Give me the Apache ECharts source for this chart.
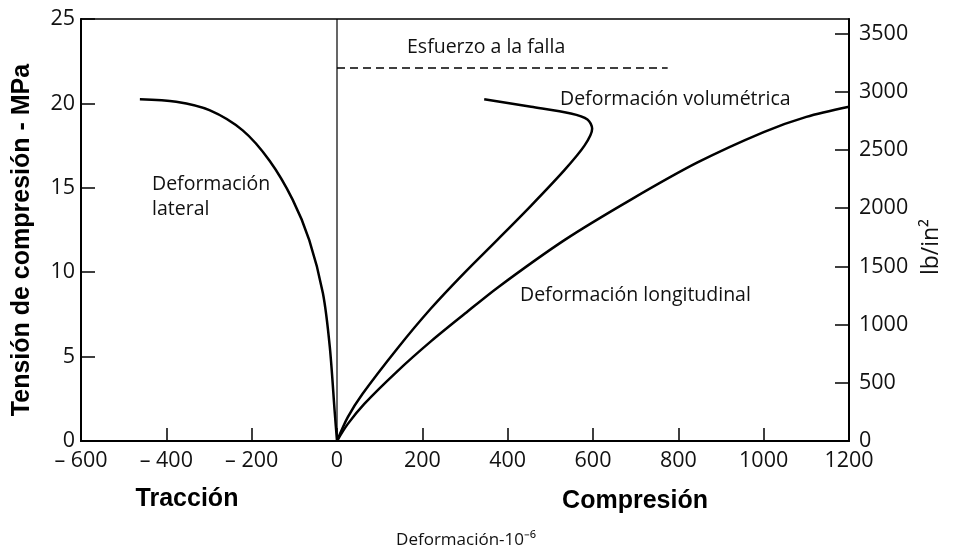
<!DOCTYPE html>
<html><head><meta charset="utf-8">
<script src="https://cdn.jsdelivr.net/npm/echarts@6/dist/echarts.min.js"></script>
<style>html,body{margin:0;padding:0;background:#fff}#c{width:953px;height:557px}</style>
</head><body><div id="c"></div>
<script>
// Axis ticks and labels
const xTicks = [-600, -400, -200, 0, 200, 400, 600, 800, 1000, 1200];
const xTickLabels = ['– 600', '– 400', '– 200', '0', '200', '400', '600', '800', '1000', '1200'];
const yTicksMPa = [0, 5, 10, 15, 20, 25];
const yTicksPsi = [0, 500, 1000, 1500, 2000, 2500, 3000, 3500];

// Deformación lateral (tracción)
const lateralStrain = [0, -5, -17, -33, -65, -104, -158, -221, -299, -377, -462];
const lateralStress = [0, 1.6, 5.6, 8.75, 11.9, 14.3, 16.6, 18.4, 19.6, 20.1, 20.25];

// Deformación longitudinal
const longStrain = [0, 25, 64, 140, 220, 300, 377, 533, 689, 845, 1000, 1100, 1200];
const longStress = [0, 1.0, 2.2, 4.1, 5.9, 7.55, 9.1, 11.9, 14.3, 16.5, 18.3, 19.2, 19.8];

// Deformación volumétrica
const volStrain = [0, 25, 60, 142, 220, 298, 377, 455, 533, 580, 598, 587, 548, 455, 345];
const volStress = [0, 1.4, 2.8, 5.5, 7.85, 9.95, 11.95, 13.95, 16.05, 17.5, 18.5, 19.05, 19.4, 19.8, 20.25];

// Esfuerzo a la falla
const failureStrain = [0, 775];
const failureStress = [22.1, 22.1];

// Eje de deformación cero
const zeroStrain = [0, 0];
const zeroStress = [0, 25];

const zip = (a, b) => a.map((v, i) => [v, b[i]]);
const MPA_TO_PSI = 145.038;

const chart = echarts.init(document.getElementById('c'), null, {renderer: 'canvas'});
const tickFont = {fontFamily: 'Open Sans', fontSize: 21.5, color: '#111'};
const annFont = {fontFamily: 'Open Sans', fontSize: 19.5, fill: '#111'};
const boldFont = {fontFamily: 'Liberation Sans', fontWeight: 'bold', fontSize: 25, fill: '#000'};

chart.setOption({
  animation: false,
  backgroundColor: '#fff',
  grid: {left: 81, right: 104, top: 19, bottom: 116, show: true, borderColor: '#000', borderWidth: 1.5, containLabel: false},
  xAxis: {
    type: 'value', min: -600, max: 1200, interval: 200,
    axisLine: {show: true, onZero: false, lineStyle: {color: '#000', width: 2}},
    axisTick: {show: true, inside: true, length: 13, lineStyle: {color: '#000', width: 1.5}},
    splitLine: {show: false},
    axisLabel: {margin: 9, ...tickFont, formatter: v => { const i = xTicks.indexOf(v); return i >= 0 ? xTickLabels[i] : ''; }}
  },
  yAxis: [{
    type: 'value', min: 0, max: 25, interval: 5, position: 'left',
    axisLine: {show: true, onZero: false, lineStyle: {color: '#000', width: 2}},
    axisTick: {show: true, inside: true, length: 14, lineStyle: {color: '#000', width: 1.5}},
    splitLine: {show: false},
    axisLabel: {margin: 6, ...tickFont, formatter: v => yTicksMPa.includes(v) ? String(v) : ''}
  }, {
    type: 'value', min: 0, max: 25 * MPA_TO_PSI, interval: 500, position: 'right',
    axisLine: {show: true, onZero: false, lineStyle: {color: '#000', width: 2}},
    axisTick: {show: true, inside: true, length: 14, lineStyle: {color: '#000', width: 1.5}},
    splitLine: {show: false},
    axisLabel: {margin: 10, showMaxLabel: false, ...tickFont, formatter: v => yTicksPsi.includes(v) ? String(v) : ''}
  }],
  series: [
    {type: 'line', data: zip(zeroStrain, zeroStress), symbol: 'none', lineStyle: {color: '#000', width: 1.2}, z: 1},
    {type: 'line', data: zip(failureStrain, failureStress), symbol: 'none', lineStyle: {color: '#000', width: 1.5, type: [8, 5]}},
    {type: 'line', data: zip(lateralStrain, lateralStress), smooth: 0.3, symbol: 'none', lineStyle: {color: '#000', width: 2.5}},
    {type: 'line', data: zip(longStrain, longStress), smooth: 0.3, symbol: 'none', lineStyle: {color: '#000', width: 2.5}},
    {type: 'line', data: zip(volStrain, volStress), smooth: 0.3, symbol: 'none', lineStyle: {color: '#000', width: 2.5}}
  ],
  graphic: [
    {type: 'text', x: 22, y: 240, rotation: Math.PI / 2, style: {text: 'Tensión de compresión - MPa', ...boldFont, align: 'center', verticalAlign: 'middle'}},
    {type: 'text', x: 931, y: 247, rotation: Math.PI / 2, style: {text: 'lb/in²', ...annFont, fontSize: 23, align: 'center', verticalAlign: 'middle'}},
    {type: 'text', x: 187, y: 499, style: {text: 'Tracción', ...boldFont, align: 'center', verticalAlign: 'middle'}},
    {type: 'text', x: 635, y: 501, style: {text: 'Compresión', ...boldFont, align: 'center', verticalAlign: 'middle'}},
    {type: 'text', x: 466, y: 540, style: {text: 'Deformación-10⁻⁶', ...annFont, fontSize: 17, align: 'center', verticalAlign: 'middle'}},
    {type: 'text', x: 407, y: 47, style: {text: 'Esfuerzo a la falla', ...annFont, align: 'left', verticalAlign: 'middle'}},
    {type: 'text', x: 560, y: 99, style: {text: 'Deformación volumétrica', ...annFont, align: 'left', verticalAlign: 'middle'}},
    {type: 'text', x: 152, y: 184, style: {text: 'Deformación', ...annFont, align: 'left', verticalAlign: 'middle'}},
    {type: 'text', x: 152, y: 209, style: {text: 'lateral', ...annFont, align: 'left', verticalAlign: 'middle'}},
    {type: 'text', x: 520, y: 295, style: {text: 'Deformación longitudinal', ...annFont, align: 'left', verticalAlign: 'middle'}}
  ]
});
</script>
</body></html>
